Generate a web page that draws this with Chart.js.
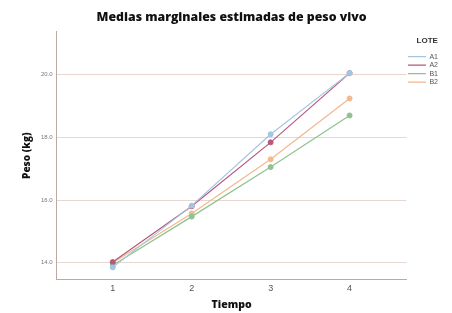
<!DOCTYPE html>
<html><head><meta charset="utf-8">
<script src="https://cdn.jsdelivr.net/npm/chart.js@4"></script>
<style>html,body{margin:0;padding:0;background:#fff;}#wrap{width:452px;height:313px;}</style>
</head><body><div id="wrap"><canvas id="c" width="452" height="313"></canvas></div>
<script>
const tiempo = [1, 2, 3, 4];
const tiempoLabels = ['1', '2', '3', '4'];
const yTicks = [14, 16, 18, 20];
const yTickLabels = ['14.0', '16.0', '18.0', '20.0'];
const seriesNames = ['A1', 'A2', 'B1', 'B2'];
const A1 = [13.85, 15.82, 18.10, 20.05];
const A2 = [14.02, 15.80, 17.84, 20.05];
const B1 = [13.92, 15.47, 17.05, 18.70];
const B2 = [14.00, 15.57, 17.30, 19.24];
const colors = ['#a3c6e2', '#b8587c', '#8fc28f', '#f3b88c'];
const values = [A1, A2, B1, B2];

const datasets = seriesNames.map((n, i) => ({
  label: n,
  data: tiempo.map((t, j) => ({x: t, y: values[i][j]})),
  borderColor: colors[i],
  backgroundColor: colors[i],
  borderWidth: 1.2,
  pointRadius: 2.5,
  pointHoverRadius: 2.5,
  pointBorderWidth: 1,
  tension: 0
}));

new Chart(document.getElementById('c'), {
  type: 'line',
  data: {datasets},
  options: {
    responsive: false,
    animation: false,
    devicePixelRatio: 1,
    layout: {padding: {left: 21, right: 4, top: 4, bottom: 2}},
    plugins: {
      title: {
        display: true,
        fullSize: false,
        text: 'Medias marginales estimadas de peso vivo',
        color: '#111',
        font: {family: 'Open Sans', size: 12.3, weight: 800},
        padding: {top: 6, bottom: 7}
      },
      legend: {
        position: 'right',
        align: 'start',
        title: {display: true, text: 'LOTE', color: '#333', font: {family: 'Liberation Sans', size: 8, weight: 'bold'}, padding: {top: 33, bottom: 5}},
        labels: {
          color: '#555',
          font: {family: 'Liberation Sans', size: 7},
          boxWidth: 18,
          boxHeight: 0,
          padding: 1.5,
          generateLabels: (chart) => chart.data.datasets.map((d, i) => ({
            text: d.label, strokeStyle: d.borderColor, fillStyle: d.borderColor, lineWidth: 1.2, datasetIndex: i, fontColor: '#555'
          }))
        }
      },
      tooltip: {enabled: false}
    },
    scales: {
      x: {
        type: 'linear',
        min: 0.29, max: 4.72,
        afterBuildTicks: (s) => { s.ticks = tiempo.map(v => ({value: v})); },
        ticks: {callback: (v) => tiempoLabels[tiempo.indexOf(v)], color: '#555', font: {family: 'Liberation Sans', size: 9}, padding: 4},
        grid: {display: false, drawTicks: false},
        border: {display: true, color: '#b9aaa2', width: 1},
        title: {display: true, text: 'Tiempo', color: '#111', font: {family: 'Open Sans', size: 10.5, weight: 800}, padding: {top: 0, bottom: 0}}
      },
      y: {
        type: 'linear',
        min: 13.46, max: 21.37,
        afterBuildTicks: (s) => { s.ticks = yTicks.map(v => ({value: v})); },
        ticks: {callback: (v) => yTickLabels[yTicks.indexOf(v)], color: '#777', font: {family: 'Liberation Sans', size: 6}, padding: 4},
        grid: {display: true, color: '#e6d8d0', drawTicks: false, lineWidth: 1},
        border: {display: true, color: '#b9aaa2', width: 1},
        title: {display: true, text: 'Peso (kg)', color: '#111', font: {family: 'Open Sans', size: 10, weight: 800}, padding: {top: 0, bottom: 4}}
      }
    }
  }
});
</script></body></html>
